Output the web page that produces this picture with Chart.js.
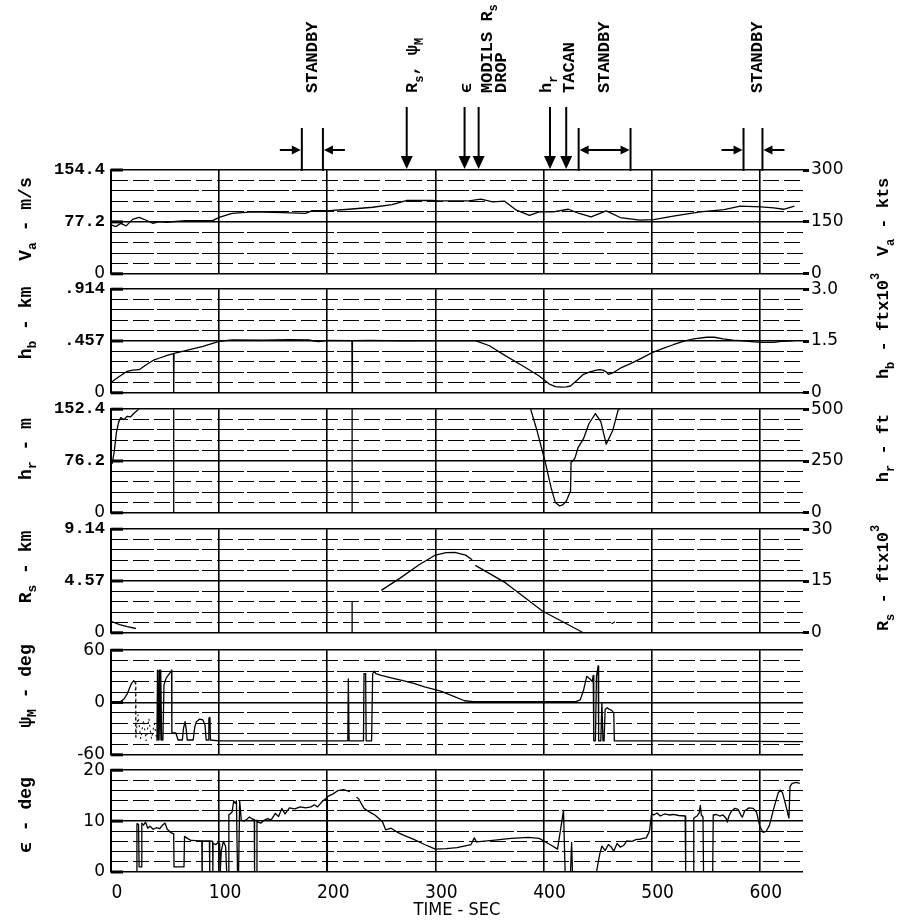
<!DOCTYPE html>
<html><head><meta charset="utf-8">
<script src="https://cdn.jsdelivr.net/npm/chart.js@4.4.1/dist/chart.umd.min.js"></script>
<style>
html,body{margin:0;padding:0;background:#fff;}
#wrap{position:relative;width:908px;height:924px;overflow:hidden;background:#fff;}
#wrap canvas{position:absolute;left:0;}
</style></head><body><div id="wrap"></div>
<script>
// ---------------- DATA ----------------
const timeTicks = [0, 100, 200, 300, 400, 500, 600];
const timeTitle = 'TIME - SEC';

// Airspeed Va (m/s) : [time s, value]
const vaSeries = [[0,72.7],[4.6,70.3],[9,75],[14,71.3],[20,81],[26,84],[32,80],[38.5,75.2],[45,77.7],[51,76.7],[69,79],[94,79],[100,84],[112,90],[131,92],[159,91],[180,90],[186,94],[202,94],[220,96],[242,99],[260,103],[273,109],[297,109],[303,108.6],[331,108.6],[342,111],[353,107],[364,108],[375,94.6],[387,87],[396,92],[409,92],[423,96],[433,89.7],[444,84.7],[458,93.6],[471,83.7],[489,79.7],[502,80.7],[520,85.7],[545,92],[567,95.6],[582,100.6],[601,99.6],[613,98],[622,96],[632,100.6]];
const vaLeftTicks = [0, 77.2, 154.4];
const vaLeftLabels = ['0', '77.2', '154.4'];
const vaRightTicks = [0, 150, 300];
const vaRightLabels = ['0', '150', '300'];

// Barometric altitude hb (km)
const hbSeries = [[0,0.088],[4,0.12],[8,0.146],[15,0.19],[20,0.2],[26,0.204],[30,0.23],[35,0.263],[40,0.29],[45,0.307],[52,0.33],[57.8,0.345],[58,0],[58.3,0.347],[70,0.375],[85,0.41],[100,0.453],[112,0.467],[140,0.465],[165,0.468],[183,0.466],[188,0.455],[192,0.452],[196,0.455],[200,0.462],[222.8,0.46],[223,0],[223.3,0.46],[240,0.462],[270,0.458],[300,0.46],[320,0.46],[337,0.46],[350,0.415],[365,0.326],[381,0.237],[396,0.148],[406,0.074],[411,0.055],[416,0.05],[421,0.052],[425,0.06],[431,0.11],[437,0.163],[443,0.185],[449,0.2],[452,0.205],[455,0.2],[458,0.185],[460,0.163],[464,0.175],[471,0.217],[480,0.255],[489,0.297],[501,0.356],[510,0.39],[520,0.424],[530,0.455],[539,0.475],[551,0.49],[558,0.49],[566,0.475],[575,0.465],[582,0.46],[592,0.452],[601,0.445],[613,0.445],[622,0.455],[632,0.46]];
const hbLeftTicks = [0, 0.457, 0.914];
const hbLeftLabels = ['0', '.457', '.914'];
const hbRightTicks = [0, 1.5, 3.0];
const hbRightLabels = ['0', '1.5', '3.0'];

// Radar altitude hr (m)
const hrSeries = [[1,72],[3,90],[5,118],[7,133],[9,140],[12,137],[15,142],[18,141],[21,146],[24,150],[26,153],[27,null],[58,152.4],[58,0],[59,null],[223,152.4],[223,0],[224,null],[388,153],[394,121],[402,72],[407,37],[411,15],[415,10],[418,12],[421,17],[425,32],[425.5,74],[429,80],[432,96],[437,109],[442,131],[448,146],[453,134],[458,101],[464,121],[469,151],[471,153]];
const hrLeftTicks = [0, 76.2, 152.4];
const hrLeftLabels = ['0', '76.2', '152.4'];
const hrRightTicks = [0, 250, 500];
const hrRightLabels = ['0', '250', '500'];

// Slant range Rs (km)
const rsSeries = [[0,1.02],[8,0.73],[15,0.55],[23,0.38],[24,null],[223,0],[223,2.8],[224,null],[250,3.74],[267,4.8],[285,6.0],[300,6.86],[310,7.07],[318,7.1],[328,6.85],[334,6.45],[335.5,null],[337,5.95],[365,4.4],[399,1.92],[436,0.05],[437,null],[463,0.8],[466,0.98]];
const rsLeftTicks = [0, 4.57, 9.14];
const rsLeftLabels = ['0', '4.57', '9.14'];
const rsRightTicks = [0, 15, 30];
const rsRightLabels = ['0', '15', '30'];

// Azimuth psi_M (deg)
const psiSeries = [[0,0],[6,0],[9,1],[12,4],[15,10],[17,16],[19,22],[21,25],[22.5,23],[23,-40],[25,-14],[27.5,-42],[30,-20],[32.5,-44],[35,-18],[37.5,-42],[40,-24],[42.5,-44],[43,37],[43.8,-43],[44.5,37],[45.3,-43],[46,37],[46.8,-43],[48,-43],[49,20],[51,28],[54,33],[56,37],[56.3,-35],[60,-35],[62,-43],[66,-43],[67,-30],[68.5,-22],[69.5,-30],[70.5,-43],[76,-43],[77.5,-28],[79,-22],[82,-19],[85,-20],[87,-26],[88,-43],[90,-43],[90.5,-18],[91.5,-17],[92,-43],[100,-44],[219,-44],[219.5,27],[220.2,-44],[233.5,-44],[234,33],[235.5,33],[236,-44],[241,-44],[242,33],[243.5,36],[245,33],[250,31],[260,28],[270,25],[280,22],[290,18],[297,15.7],[305,13],[317,7],[327,2],[335,1],[430,1],[434,3],[437,14],[440,30],[443,27],[445,24],[446,31],[446.5,-44],[448,-44],[449,30],[450.5,42],[451,-44],[453,-44],[454,0],[455,-44],[456,-44],[457,-8],[459,-6],[461,-8],[463,-9],[465,-12],[465.5,-44],[500,-44],[640,-45]];
const psiDottedSpan = [22.5, 42.5];
const psiLeftTicks = [-60, 0, 60];
const psiLeftLabels = ['-60', '0', '60'];

// Elevation epsilon (deg)
const epsSeries = [[0,0],[23.8,0],[24,9.5],[25.5,9.3],[26,1],[28,1],[28.5,9.6],[30,9.2],[32,9.8],[34,8.6],[36,9.0],[39,8.4],[42,8.7],[45,8.5],[48,9.3],[50,9.6],[52,8.4],[55,7.8],[58,7.5],[58.3,1],[67.5,1],[68,7.0],[70,6.7],[74,6.2],[84,6.1],[84.2,0],[84.4,6.1],[91,6.1],[91.2,0],[91.4,6.1],[94,6.0],[94.2,0],[94.4,5.6],[97,5.4],[99,5.8],[100.5,5.5],[101,0],[102,4.2],[104,6.0],[106,5.0],[107,0],[108.5,0],[109,11.2],[112,11.8],[113.5,14],[115,13.5],[116,14],[117,0],[118,0],[119,14],[120.5,10.2],[123,10],[126,10.4],[128,10.8],[130,10.5],[132.5,10.3],[132.8,0],[134.8,0],[135,10.2],[136,9.8],[138.5,9.6],[142,10.2],[145,10.5],[148,10.2],[152,11.5],[155,10.9],[158,12.5],[161,11.4],[165,12.6],[170,12.4],[175,12.8],[180,12.6],[185,12.8],[188,13.2],[191,12.8],[196,14],[199.8,14.6],[200,0],[200.3,14.8],[205,15.3],[210,16],[215,16.2],[221,15.8],[224,null],[227,14.7],[229,14.4],[234,12.5],[239,11.8],[244,11.2],[251,9.9],[254,8.3],[259,8.6],[265,7.8],[271,7.2],[280,6.4],[290,5.4],[300,4.5],[310,4.6],[320,4.8],[333,5.4],[336,6.7],[338,5.9],[353,6.2],[370,6.6],[386,6.8],[396,6.6],[406,5.4],[413,4.5],[418.5,12.1],[420,0],[425,0],[426,5.8],[426.8,0],[449,0],[452,3.5],[454,5.1],[457,4.2],[460,5.4],[463,4.8],[465,4.1],[468,5.6],[471,4.9],[474,5.2],[477,6.1],[482,6.0],[486,6.4],[489,6.4],[492,6.6],[495,6.7],[498,8.0],[500,11.5],[502,11.2],[505,11.6],[508,11.0],[512,11.4],[516,11.2],[520,11.3],[525,11.1],[531,11.0],[531.5,0],[538.5,0],[539,10.6],[542,11.0],[544,11.6],[545,13.1],[546,11.2],[547.5,10.8],[548,0],[556.5,0],[557,11.2],[560,11.3],[563,11.0],[566,11.2],[569,10.5],[570,9.8],[571.5,11.0],[574,12.0],[577,12.5],[580,12.3],[583,11.0],[584,10.8],[586,12.0],[590,12.6],[594,12.5],[597,11.8],[600,9.0],[603,7.8],[606,8.0],[609,9.2],[613,12.5],[617,15.5],[619,16.1],[621,15.6],[624,13.2],[626,11.4],[627,10.6],[628,16.8],[630,17.4],[634,17.6],[637,17.4]];
const epsLeftTicks = [0, 10, 20];
const epsLeftLabels = ['0', '10', '20'];

// Event annotations (time, s)
const standbyStart = [176.5, 432.5, 585];
const standbyEnd = [196, 480.5, 602.5];
const standbyStyle = ['in', 'out', 'in'];
const eventTimes = [273.5, 327, 340, 406, 421];

// ---------------- STYLE / LAYOUT ----------------
const MONO = "'Liberation Mono','DejaVu Sans Mono',monospace";
const SANS = "'DejaVu Sans','Liberation Sans',sans-serif";
const NARROW = "'Liberation Sans Narrow','DejaVu Sans Condensed','DejaVu Sans',sans-serif";

const panels = [
  {series: vaSeries, top:170, bottom:274, min:0, max:154.4, lt:vaLeftTicks, ll:vaLeftLabels, rmin:0, rmax:300, rt:vaRightTicks, rl:vaRightLabels,
   leftTitle:[['V'],['a','sub'],[' - m/s']], leftY:219, rightTitle:[['V'],['a','sub'],[' - kts']], rightY:217},
  {series: hbSeries, top:289, bottom:393, min:0, max:0.914, lt:hbLeftTicks, ll:hbLeftLabels, rmin:0, rmax:3.0, rt:hbRightTicks, rl:hbRightLabels,
   leftTitle:[['h'],['b','sub'],[' - km']], leftY:323, rightTitle:[['h'],['b','sub'],[' - ftx10'],['3','sup']], rightY:326},
  {series: hrSeries, top:409, bottom:513, min:0, max:152.4, lt:hrLeftTicks, ll:hrLeftLabels, rmin:0, rmax:500, rt:hrRightTicks, rl:hrRightLabels,
   leftTitle:[['h'],['r','sub'],[' - m']], leftY:449, rightTitle:[['h'],['r','sub'],[' - ft']], rightY:448},
  {series: rsSeries, top:529, bottom:633, min:0, max:9.14, lt:rsLeftTicks, ll:rsLeftLabels, rmin:0, rmax:30, rt:rsRightTicks, rl:rsRightLabels,
   leftTitle:[['R'],['s','sub'],[' - km']], leftY:567, rightTitle:[['R'],['s','sub'],[' - ftx10'],['3','sup']], rightY:578},
  {series: psiSeries, top:650, bottom:755, min:-60, max:60, lt:psiLeftTicks, ll:psiLeftLabels, rt:null, dotted: psiDottedSpan,
   leftTitle:[['\u03C8'],['M','sub'],[' - deg']], leftY:686},
  {series: epsSeries, top:770, bottom:872, min:0, max:20, lt:epsLeftTicks, ll:epsLeftLabels, rt:null,
   leftTitle:[['\u03F5 - deg']], leftY:815}
];

const wrap = document.getElementById('wrap');

function measureParts(ctx, parts, size) {
  let w = 0;
  for (const [t, kind] of parts) {
    const s = kind ? Math.round(size * 0.72) : size;
    ctx.font = 'bold ' + s + 'px ' + MONO;
    w += ctx.measureText(t).width;
  }
  return w;
}
function drawParts(ctx, parts, x, y, size) {
  let cx = x;
  for (const [t, kind] of parts) {
    let s = size, dy = 0;
    if (kind === 'sub') { s = Math.round(size * 0.72); dy = size * 0.4; }
    if (kind === 'sup') { s = Math.round(size * 0.72); dy = -size * 0.45; }
    ctx.font = 'bold ' + s + 'px ' + MONO;
    ctx.fillText(t, cx, y + dy);
    cx += ctx.measureText(t).width;
  }
}
function drawVertical(ctx, parts, cx, cy, size, anchor) {
  ctx.save();
  ctx.translate(cx, cy);
  ctx.rotate(-Math.PI / 2);
  ctx.textBaseline = 'middle';
  ctx.textAlign = 'left';
  ctx.fillStyle = '#000';
  const w = measureParts(ctx, parts, size);
  drawParts(ctx, parts, anchor === 'center' ? -w / 2 : 0, 0, size);
  ctx.restore();
}

function arrowHead(ctx, tipX, tipY, dir, len, half) {
  ctx.beginPath();
  if (dir === 'down') { ctx.moveTo(tipX, tipY); ctx.lineTo(tipX - half, tipY - len); ctx.lineTo(tipX + half, tipY - len); }
  if (dir === 'right') { ctx.moveTo(tipX, tipY); ctx.lineTo(tipX - len, tipY - half); ctx.lineTo(tipX - len, tipY + half); }
  if (dir === 'left') { ctx.moveTo(tipX, tipY); ctx.lineTo(tipX + len, tipY - half); ctx.lineTo(tipX + len, tipY + half); }
  ctx.closePath();
  ctx.fill();
}

function makeDecor(p, idx, cTop) {
  return {
    id: 'decor' + idx,
    afterDraw(chart) {
      const ctx = chart.ctx;
      const ca = chart.chartArea;
      const ys = chart.scales.y;
      ctx.save();
      ctx.strokeStyle = '#000'; ctx.fillStyle = '#000';
      // heavy marks at labelled values, inside left edge
      ctx.lineWidth = 3;
      for (const v of p.lt) {
        const y = ys.getPixelForValue(v);
        ctx.beginPath(); ctx.moveTo(ca.left, y); ctx.lineTo(ca.left + 12, y); ctx.stroke();
      }
      // axis titles
      drawVertical(ctx, p.leftTitle, 26, p.leftY - cTop, 18, 'center');
      if (p.rightTitle) drawVertical(ctx, p.rightTitle, 884, p.rightY - cTop, 17, 'center');
      // event annotations on top panel
      if (idx === 0) {
        const xs = chart.scales.x;
        const top = ca.top;
        ctx.lineWidth = 2;
        for (let i = 0; i < standbyStart.length; i++) {
          const a = xs.getPixelForValue(standbyStart[i]);
          const b = xs.getPixelForValue(standbyEnd[i]);
          ctx.beginPath(); ctx.moveTo(a, top - 42); ctx.lineTo(a, top + 1); ctx.stroke();
          ctx.beginPath(); ctx.moveTo(b, top - 42); ctx.lineTo(b, top + 1); ctx.stroke();
          const ay = top - 20;
          if (standbyStyle[i] === 'in') {
            ctx.beginPath(); ctx.moveTo(a - 22, ay); ctx.lineTo(a - 6, ay); ctx.stroke();
            arrowHead(ctx, a - 1, ay, 'right', 9, 4.5);
            ctx.beginPath(); ctx.moveTo(b + 6, ay); ctx.lineTo(b + 22, ay); ctx.stroke();
            arrowHead(ctx, b + 1, ay, 'left', 9, 4.5);
          } else {
            ctx.beginPath(); ctx.moveTo(a + 6, ay); ctx.lineTo(b - 6, ay); ctx.stroke();
            arrowHead(ctx, a + 1, ay, 'left', 9, 4.5);
            arrowHead(ctx, b - 1, ay, 'right', 9, 4.5);
          }
          drawVertical(ctx, [['STANDBY']], (a + b) / 2 + (i === 2 ? 5 : 0), 93, 17, 'start');
        }
        for (const t of eventTimes) {
          const x = xs.getPixelForValue(t);
          ctx.beginPath(); ctx.moveTo(x, top - 63); ctx.lineTo(x, top - 8); ctx.stroke();
          arrowHead(ctx, x, top - 1, 'down', 13, 6);
        }
        const ex = eventTimes.map(t => xs.getPixelForValue(t));
        drawVertical(ctx, [['R'],['s','sub'],[', '],['\u03C8'],['M','sub']], ex[0] + 6, 93, 17, 'start');
        drawVertical(ctx, [['\u03F5']], ex[1] + 2, 93, 17, 'start');
        drawVertical(ctx, [['MODILS R'],['s','sub']], ex[2] + 9, 93, 17, 'start');
        drawVertical(ctx, [['DROP']], ex[2] + 23, 93, 17, 'start');
        drawVertical(ctx, [['h'],['r','sub']], ex[3] - 3, 93, 17, 'start');
        drawVertical(ctx, [['TACAN']], ex[4] + 4, 93, 17, 'start');
      }
      ctx.restore();
    }
  };
}

function matchIdx(arr, v) {
  for (let i = 0; i < arr.length; i++) if (Math.abs(arr[i] - v) < 1e-6) return i;
  return -1;
}

panels.forEach((p, idx) => {
  const first = idx === 0, last = idx === panels.length - 1;
  const cTop = first ? 0 : p.top - 16;
  const cBottom = last ? 924 : p.bottom + 16;
  const h = cBottom - cTop;
  const canvas = document.createElement('canvas');
  canvas.width = 908; canvas.height = h;
  canvas.style.top = cTop + 'px';
  canvas.style.width = '908px'; canvas.style.height = h + 'px';
  wrap.appendChild(canvas);

  const gridVals = [];
  for (let i = 0; i <= 10; i++) gridVals.push(p.min + (p.max - p.min) * i / 10);

  const scales = {
    x: {
      type: 'linear', min: 0, max: 640,
      afterBuildTicks: s => { s.ticks = timeTicks.map(v => ({value: v})); },
      afterFit: s => { s.height = last ? 52 : 0; },
      grid: {color: '#000', lineWidth: 1.6, drawTicks: false},
      border: {display: false},
      ticks: {display: last, autoSkip: false, maxRotation: 0, padding: 10, labelOffset: 6, color: '#000',
              font: {family: NARROW, size: 19}},
      title: {display: last, text: timeTitle, color: '#000', font: {family: NARROW, size: 18}, padding: {top: 0, bottom: 3}}
    },
    y: {
      type: 'linear', position: 'left', min: p.min, max: p.max,
      afterBuildTicks: s => { s.ticks = gridVals.map(v => ({value: v})); },
      afterFit: s => { s.width = 111; },
      grid: {color: '#000', drawTicks: false,
             lineWidth: c => (c.tick && matchIdx(p.lt, c.tick.value) >= 0) ? 1.6 : 1},
      border: {display: true, color: '#000', width: 2,
               dash: c => {
                 if (!c.tick) return [];
                 if (matchIdx(p.lt, c.tick.value) >= 0) return [];
                 const k = Math.round((c.tick.value - p.min) / (p.max - p.min) * 10);
                 return k % 2 ? [16, 5] : [42, 3];
               }},
      ticks: {autoSkip: false, padding: 6, color: '#000',
              callback: v => { const i = matchIdx(p.lt, v); return i >= 0 ? p.ll[i] : ''; },
              font: c => {
                const lbl = c.tick ? String(c.tick.label) : '';
                return lbl.indexOf('.') >= 0 ? {family: MONO, size: 17, weight: 'bold'} : {family: SANS, size: 17};
              }}
    }
  };
  if (p.rt) {
    scales.y2 = {
      type: 'linear', position: 'right', min: p.rmin, max: p.rmax,
      afterBuildTicks: s => { s.ticks = p.rt.map(v => ({value: v})); },
      afterFit: s => { s.width = 105; },
      grid: {drawOnChartArea: false, drawTicks: true, tickLength: 6, tickWidth: 3, tickColor: '#000'},
      border: {display: false},
      ticks: {autoSkip: false, padding: 2, color: '#000',
              callback: v => { const i = matchIdx(p.rt, v); return i >= 0 ? p.rl[i] : ''; },
              font: {family: SANS, size: 17}}
    };
  }

  const data = p.series.map(([t, v]) => ({x: t, y: v}));
  const dotted = p.dotted;

  new Chart(canvas, {
    type: 'line',
    data: {datasets: [{
      data: data,
      borderColor: '#000', borderWidth: 1.3, pointRadius: 0, tension: 0, spanGaps: false,
      borderJoinStyle: 'round', fill: false,
      segment: {
        borderDash: c => (dotted && c.p0.parsed.x >= dotted[0] && c.p1.parsed.x <= dotted[1]) ? [2, 4] : undefined,
        borderWidth: c => (dotted && c.p0.parsed.x >= dotted[0] && c.p1.parsed.x <= dotted[1]) ? 1 : undefined
      }
    }]},
    options: {
      responsive: false, animation: false, devicePixelRatio: 1,
      layout: {padding: {top: p.top - cTop, bottom: last ? 0 : cBottom - p.bottom, left: 0, right: p.rt ? 0 : 105}},
      plugins: {legend: {display: false}, tooltip: {enabled: false}},
      scales: scales
    },
    plugins: [makeDecor(p, idx, cTop)]
  });
});
</script>
</body></html>
